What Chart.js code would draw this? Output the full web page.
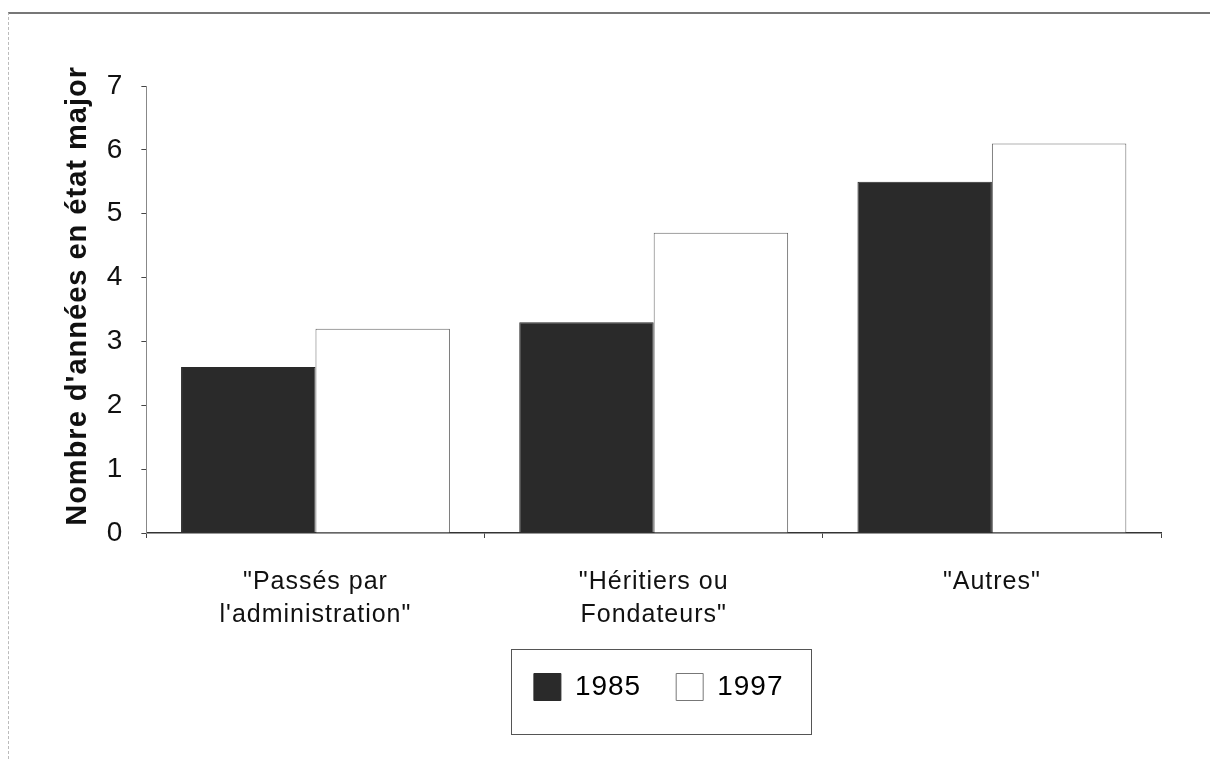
<!DOCTYPE html>
<html>
<head>
<meta charset="utf-8">
<script src="https://cdn.jsdelivr.net/npm/chart.js@4/dist/chart.umd.min.js"></script>
<style>
  html, body { margin: 0; padding: 0; background: #fff; }
  #wrap { position: relative; width: 1210px; height: 759px; overflow: hidden; }
  #frame { position: absolute; left: 8px; top: 12px; right: 0; bottom: 0;
           border-top: 2px solid #777; border-left: 1px dashed #bbb; pointer-events: none; }
  canvas { position: absolute; left: 0; top: 0; }
</style>
</head>
<body>
<div id="wrap">
  <div id="frame"></div>
  <canvas id="chart" width="1210" height="759"></canvas>
</div>
<script>
// ── Data ─────────────────────────────────────────────────────────────────────
const categories = [
  ['"Passés par', 'l\'administration"'],
  ['"Héritiers ou', 'Fondateurs"'],
  ['"Autres"'],
];
const values1985 = [2.6, 3.3, 5.5];
const values1997 = [3.2, 4.7, 6.1];
const yTicks = [0, 1, 2, 3, 4, 5, 6, 7];

const FONT = '"Liberation Sans", Arial, Helvetica, sans-serif';

// slight letter spacing like the scanned original
const spacing = {
  id: 'spacing',
  beforeUpdate: c => { c.ctx.letterSpacing = '1px'; },
  beforeDraw:   c => { c.ctx.letterSpacing = '1px'; },
};

// legend sits a little right of the plot centre, inside a frame
const legendBox = {
  id: 'legendBox',
  afterLayout: c => { c.legend.left += 5; c.legend.right += 5; },
  afterDraw: c => {
    const hb = c.legend.legendHitBoxes;
    if (!hb || !hb.length) return;
    const first = hb[0], last = hb[hb.length - 1];
    const cy = first.top + first.height / 2;
    const ctx = c.ctx;
    ctx.save();
    ctx.strokeStyle = '#555';
    ctx.lineWidth = 1;
    ctx.strokeRect(Math.round(first.left - 23) + 0.5, Math.round(cy - 38) + 0.5,
                   Math.round(last.left + last.width - first.left + 50), 85);
    ctx.restore();
  },
};

new Chart(document.getElementById('chart'), {
  type: 'bar',
  data: {
    labels: categories,
    datasets: [
      {
        label: '1985',
        data: values1985,
        backgroundColor: '#2a2a2a',
        borderColor: '#2a2a2a',
        borderWidth: 1,
        categoryPercentage: 0.795,
        barPercentage: 1.0,
      },
      {
        label: '1997',
        data: values1997,
        backgroundColor: '#ffffff',
        borderColor: '#666',
        borderWidth: 1,
        categoryPercentage: 0.795,
        barPercentage: 1.0,
      },
    ],
  },
  options: {
    responsive: false,
    animation: false,
    layout: { padding: { left: 61, top: 86, right: 49, bottom: 48 } },
    plugins: {
      tooltip: { enabled: false },
      legend: {
        position: 'bottom',
        fullSize: false,
        labels: {
          color: '#111',
          font: { family: FONT, size: 28 },
          boxWidth: 27,
          boxHeight: 27,
          padding: 35,
          generateLabels: chart => chart.data.datasets.map((ds, i) => ({
            text: ds.label,
            fillStyle: ds.backgroundColor,
            strokeStyle: i === 0 ? '#2a2a2a' : '#777',
            lineWidth: 1,
            datasetIndex: i,
          })),
        },
      },
    },
    scales: {
      x: {
        afterFit: axis => { axis.height -= 22; },
        grid: { display: true, drawOnChartArea: false, tickLength: 5, color: '#444' },
        border: { display: true, color: '#333', width: 1.5 },
        ticks: {
          color: '#111',
          padding: 28,
          font: { family: FONT, size: 25, lineHeight: 1.32 },
        },
      },
      y: {
        min: 0,
        max: 7,
        afterBuildTicks: axis => { axis.ticks = yTicks.map(v => ({ value: v })); },
        grid: { display: true, drawOnChartArea: false, tickLength: 5, color: '#444' },
        border: { display: true, color: '#888', dash: [2, 2] },
        ticks: {
          color: '#111',
          padding: 18,
          font: { family: FONT, size: 28 },
        },
        title: {
          display: true,
          text: '\u00a0\u00a0\u00a0Nombre d\'années en état major',
          color: '#111',
          padding: { top: 0, bottom: -7 },
          font: { family: FONT, size: 29, weight: 'bold' },
        },
      },
    },
  },
  plugins: [spacing, legendBox],
});
</script>
</body>
</html>
